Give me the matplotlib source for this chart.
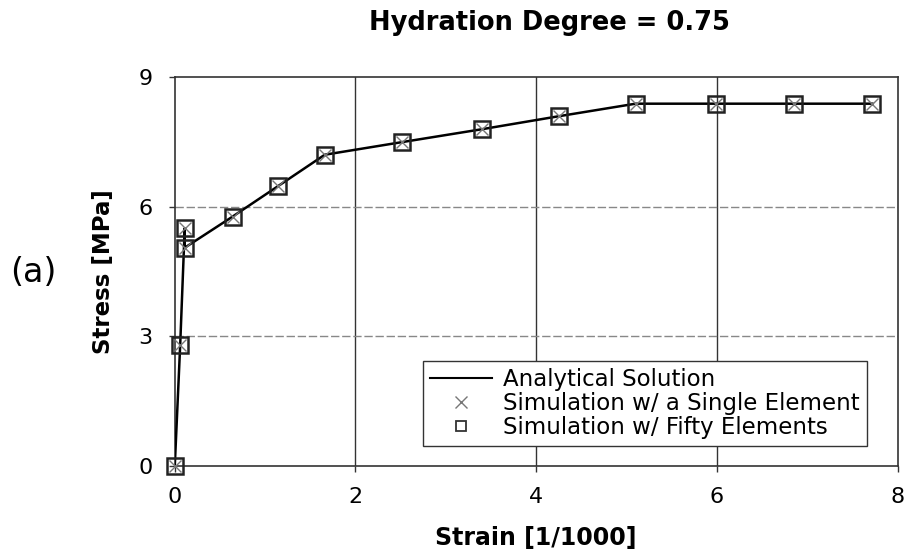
import matplotlib.pyplot as plt
from matplotlib.lines import Line2D

# stress-strain curve, hydration degree 0.75
strain = [0.0, 0.06, 0.11, 0.11, 0.64, 1.14, 1.66, 2.51, 3.40, 4.25, 5.10, 5.99, 6.85, 7.72]
stress = [0.0, 2.80, 5.50, 5.05, 5.77, 6.47, 7.20, 7.49, 7.79, 8.09, 8.38, 8.38, 8.38, 8.38]

xticks = [0, 2, 4, 6, 8]
yticks = [0, 3, 6, 9]

plt.rcParams['font.family'] = 'DejaVu Sans'

fig = plt.figure(figsize=(9.15, 5.57), dpi=100)
ax = fig.add_axes([0.191, 0.163, 0.790, 0.699])

ax.plot(strain, stress, color='black', lw=1.8, zorder=3)
ax.plot(strain, stress, ls='none', marker='s', ms=11, mfc='none',
        mec='#222222', mew=1.8, zorder=4, clip_on=False)
ax.plot(strain, stress, ls='none', marker='x', ms=9, color='#777777',
        mew=1.0, zorder=5, clip_on=False)

ax.set_xlim(0, 8)
ax.set_ylim(0, 9)
ax.set_xticks(xticks)
ax.set_yticks(yticks)
ax.tick_params(labelsize=16, direction='out', length=4, width=1, color='#333333')
ax.tick_params(axis='x', pad=11)
ax.tick_params(axis='y', pad=12)

for x in xticks[1:-1]:
    ax.axvline(x, color='#333333', lw=1.0, zorder=1)
for y in yticks[1:-1]:
    ax.axhline(y, color='#888888', lw=1.0, ls=(0, (6, 2)), zorder=1)

for s in ax.spines.values():
    s.set_color('#333333')
    s.set_linewidth(1.2)

ax.set_xlabel('Strain [1/1000]', fontsize=17, fontweight='bold', labelpad=14)
ax.set_ylabel('Stress [MPa]', fontsize=16.5, fontweight='bold', labelpad=17)
fig.text(0.600, 0.958, 'Hydration Degree = 0.75', fontsize=18.5, fontweight='bold',
         ha='center', va='center')
fig.text(0.036, 0.51, '(a)', fontsize=24, ha='center', va='center')

handles = [
    Line2D([], [], color='black', lw=1.5),
    Line2D([], [], ls='none', marker='x', ms=9, color='#777777', mew=1.0),
    Line2D([], [], ls='none', marker='s', ms=7, mfc='none', mec='#333333', mew=1.3),
]
labels = ['Analytical Solution', 'Simulation w/ a Single Element',
          'Simulation w/ Fifty Elements']
leg = ax.legend(handles, labels, loc='lower right', bbox_to_anchor=(0.957, 0.051),
                fontsize=16.5, frameon=True, fancybox=False, edgecolor='#333333',
                framealpha=1, handlelength=2.7, handletextpad=0.5,
                borderpad=0.3, labelspacing=0.05, borderaxespad=0)
leg.get_frame().set_linewidth(1.0)

fig.savefig('out.png', dpi=100)
